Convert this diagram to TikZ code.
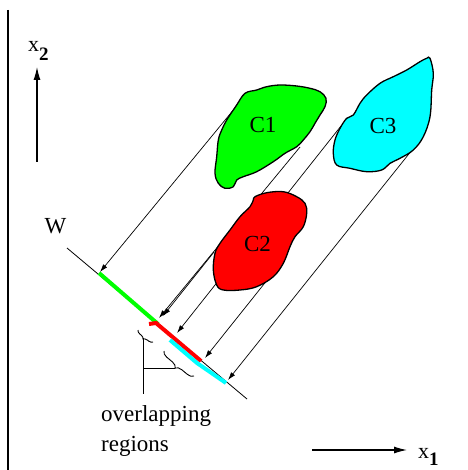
\documentclass[tikz,border=0pt]{standalone}
\usepackage{fontspec}
\setmainfont{Liberation Serif}
\usetikzlibrary{arrows.meta, calc, decorations.pathreplacing}
\definecolor{cgreen}{RGB}{0,255,0}
\definecolor{cred}{RGB}{255,0,0}
\definecolor{ccyan}{RGB}{0,255,255}
\tikzset{
    proj/.style={-{Latex[length=8pt,width=5pt]}, line width=0.7pt},
    axisarrow/.style={-{Latex[length=13pt,width=7pt]}, line width=1.1pt},
    seg/.style={line width=4pt},
    blob/.style={draw=black, line width=1.3pt},
    lbl/.style={inner sep=0pt, font=\fontsize{23}{30}\selectfont},
    axlbl/.style={inner sep=0pt, font=\fontsize{22}{22}\selectfont},
    ovbrace/.style={decorate, decoration={brace, amplitude=#1}, line width=0.9pt},
}

\begin{document}
\begin{tikzpicture}[x=1pt, y=-1pt]
    \useasboundingbox (0,0) rectangle (467,470);

    % axes
    \coordinate (ytop) at (8,10);
    \coordinate (ybot) at (8,470);
    \draw[line width=1.3pt] (ytop) -- (ybot);
    \coordinate (x2a) at (37,162);
    \coordinate (x2b) at (37,67);
    \draw[axisarrow] (x2a) -- (x2b);
    \node[axlbl, anchor=base west] (x2) at (28,52) {x\raisebox{-9pt}{\bfseries\fontsize{19}{19}\selectfont 2}};
    \coordinate (x1a) at (312,450);
    \coordinate (x1b) at (407,450);
    \draw[axisarrow] (x1a) -- (x1b);
    \node[axlbl, anchor=base west] (x1) at (418,458) {x\raisebox{-7pt}{\bfseries\fontsize{19}{19}\selectfont 1}};

    % direction w
    \coordinate (wa) at (67,248);
    \coordinate (wb) at (247,399);
    \draw[line width=0.8pt] (wa) -- (wb);
    \node[lbl, anchor=base] (w) at (55.5,233) {W};

    % projected intervals
    \coordinate (g1) at (99,273);
    \coordinate (g2) at (158,324);
    \draw[seg, cgreen] (g1) -- (g2);
    \coordinate (r0) at (149,324);
    \coordinate (r1) at (156,323);
    \coordinate (r2) at (201,361);
    \draw[seg, cred] (r0) -- (r1) -- (r2);
    \coordinate (c1) at (170,340);
    \coordinate (c0) at (197,363);
    \coordinate (c2) at (226,383);
    \draw[seg, ccyan] (c1) -- (c0) -- (c2);

    % projection lines
    \coordinate (p1) at (235,108);
    \coordinate (p2) at (300,147);
    \coordinate (p3) at (214,252);
    \coordinate (p4) at (341,126);
    \coordinate (p5) at (268,279);
    \coordinate (p6) at (412,150);
    \coordinate (f1) at (100,272);
    \coordinate (f2) at (159,318);
    \coordinate (f3) at (163,316);
    \coordinate (f4) at (177,333);
    \coordinate (f5) at (205,358);
    \coordinate (f6) at (228,380);
    \foreach \i in {1,...,6}
        \draw[proj] (p\i) -- (f\i);

    % classes
    \fill[blob, fill=cgreen] plot[smooth cycle, tension=0.6] coordinates {
        (236.7,105) (245,93.3) (256.7,90) (266.7,86.7) (280,85) (296.7,86)
        (310,88.3) (320,91.7) (326,98.3) (325,106.7) (320,115) (315,123.3)
        (310,131.7) (303.3,140) (296.7,146.7) (285,153.3) (273.3,161.7)
        (256.7,171.7) (243.3,176.7) (236.7,180) (233.3,186.7) (225,188.3)
        (218.3,183.3) (215,173.3) (216.7,156.7) (218.3,140) (221.7,130)
        (226.7,120) (233.3,110)};
    \fill[blob, fill=ccyan] plot[smooth cycle, tension=0.6] coordinates {
        (430,58.3) (433.3,73.3) (431.7,90) (430,116.7) (423.3,136.7)
        (413.3,150) (400,158.3) (390,163.3) (381.7,170) (366.7,171.7)
        (350,168.3) (336.7,165) (333.3,153.3) (335,140) (340,128.3)
        (346.7,118.3) (353.3,115) (360,103.3) (366.7,95) (380,83.3)
        (393.3,76.7) (406.7,70) (420,61.7) (426.7,58.3)};
    \fill[blob, fill=cred] plot[smooth cycle, tension=0.6] coordinates {
        (255,196.7) (266.7,192.7) (283.3,191.7) (296.7,196.7) (305,203.3)
        (306.7,213.3) (303.3,226.7) (295,236.7) (290,246.7) (283.3,263.3)
        (273.3,276.7) (256.7,286.7) (240,290) (223.3,290) (216.7,285)
        (213.3,270) (215,253.3) (220,243.3) (230,230) (240,216.7)
        (250,206.7) (253.3,200)};
    \node[lbl, anchor=base] (cl1) at (263,133) {C1};
    \node[lbl, anchor=base] (cl2) at (257.5,251) {C2};
    \node[lbl, anchor=base] (cl3) at (383,134) {C3};

    % overlap marks
    \coordinate (b1a) at (153,342);
    \coordinate (b1b) at (138,330);
    \draw[ovbrace=4pt] (b1a) -- (b1b);
    \coordinate (b2a) at (194,376);
    \coordinate (b2b) at (164,351);
    \draw[ovbrace=6pt] (b2a) -- (b2b);
    \coordinate (tip1) at (143,338);
    \coordinate (stem) at (143,394);
    \coordinate (knee) at (143,368);
    \coordinate (tip2) at (175,368);
    \draw[line width=1pt] (tip1) -- (stem);
    \draw[line width=1pt] (knee) -- (tip2);
    \node[lbl, anchor=north west, align=left] (ovl) at (101,405) {overlapping\\regions};
\end{tikzpicture}
\end{document}
